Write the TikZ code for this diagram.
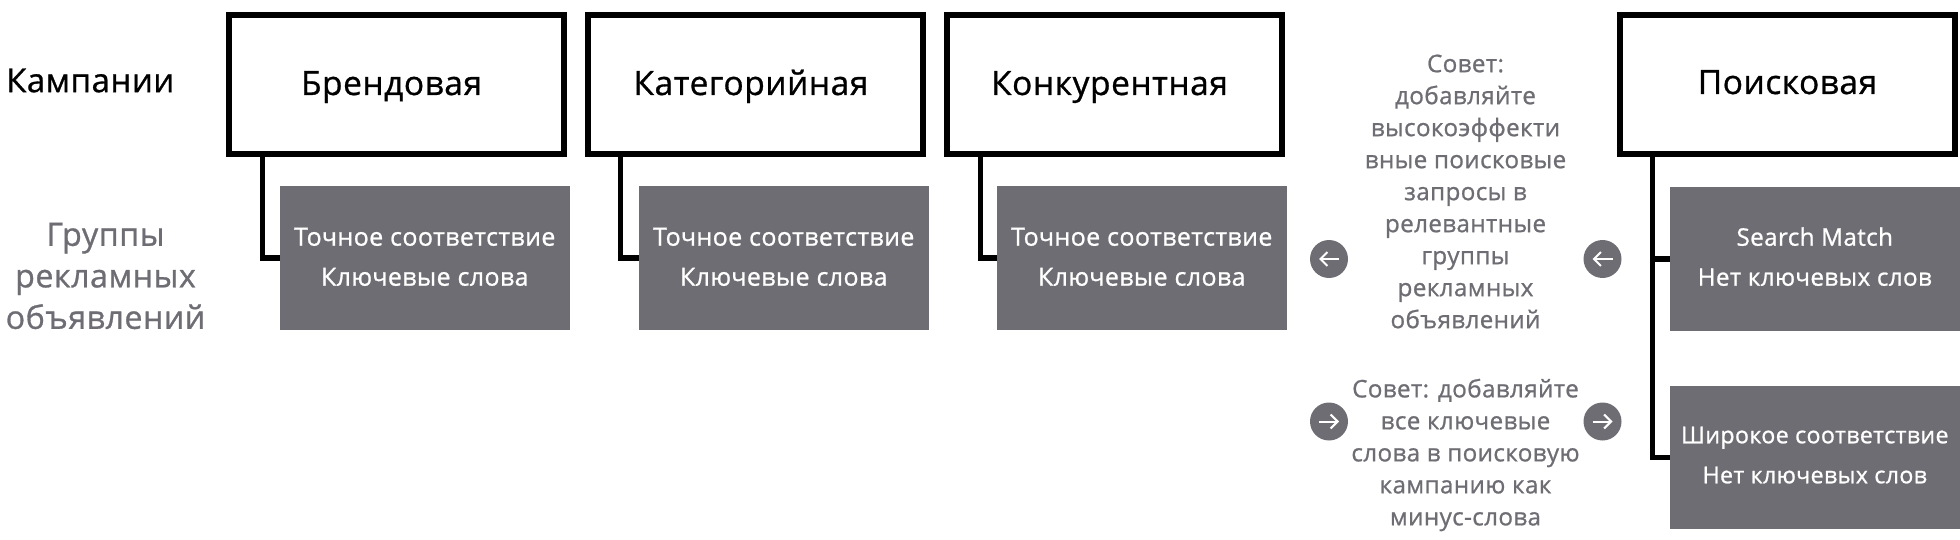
\documentclass[tikz,border=0pt]{standalone}
\usepackage{fontspec}
\setmainfont{Open Sans}[FakeBold=0.9,LetterSpace=1.6]
\usetikzlibrary{arrows.meta}
\definecolor{gr}{HTML}{6E6D73}
\newcommand\liftup{\rule[-2.5pt]{0pt}{2.5pt}}
\newcommand\liftmore{\rule[-5pt]{0pt}{5pt}}
\tikzset{
 x=1pt,y=-1pt,
 camp/.style={draw=black,line width=6pt,fill=white,inner sep=0pt,minimum width=335pt,minimum height=139pt,font=\fontsize{33.5}{36}\selectfont,text=black,text height=21pt,text depth=0pt},
 adgroup/.style={fill=gr,inner sep=0pt,minimum width=289.5pt,minimum height=143pt,align=center,text=white,font=\fontsize{25}{40}\selectfont},
 tip/.style={text=gr,align=center,inner sep=0pt,font=\fontsize{24.2}{32}\selectfont},
 side/.style={inner sep=0pt,align=center,font=\fontsize{33}{41.5}\selectfont},
 link/.style={line width=5pt,draw=black,line join=miter},
 badge/.style={circle,fill=gr,inner sep=0pt,minimum size=38pt},
 sign/.style={draw=white,line width=2pt,-{Straight Barb[length=7pt,width=14pt]}}
}
\begin{document}
\begin{tikzpicture}
\useasboundingbox (0,0) rectangle (1960,540);
\node[camp] (b1) at (396.5,84.5) {Брендовая\kern10pt};
\node[camp] (b2) at (755,84.5) {Категорийная\kern8pt};
\node[camp] (b3) at (1114,84.5) {Конкурентная\kern9pt};
\node[camp,text height=19pt] (b4) at (1787.5,84.5) {Поисковая};
\node[adgroup] (g1) at (424.75,258) {Точное соответствие\\Ключевые слова\liftup};
\node[adgroup] (g2) at (783.75,258) {Точное соответствие\\Ключевые слова\liftup};
\node[adgroup] (g3) at (1141.75,258) {Точное соответствие\\Ключевые слова\liftup};
\node[adgroup,font=\fontsize{24.2}{40}\selectfont] (g4) at (1814.75,259) {Search Match\\Нет ключевых слов\liftmore};
\node[adgroup,font=\fontsize{23.2}{40}\selectfont] (g5) at (1814.75,457.5) {Широкое соответствие\\Нет ключевых слов\liftmore};
\draw[link] ([xshift=36pt]b1.south west) |- (g1.west);
\draw[link] ([xshift=35.5pt]b2.south west) |- (g2.west);
\draw[link] ([xshift=36.5pt]b3.south west) |- (g3.west);
\draw[link] ([xshift=35pt]b4.south west) |- (g4.west);
\draw[link] ([xshift=35pt]b4.south west) |- (g5.west);
\node[side,anchor=west] (l1) at (6,80.5) {Кампании};
\node[side,text=gr,font=\fontsize{32.2}{41.5}\selectfont] (l2) at (105.5,276) {Группы\\рекламных\\объявлений};
\node[tip] (t1) at (1465.5,191.5) {Совет:\\добавляйте\\высокоэффекти\\вные поисковые\\запросы в\\релевантные\\группы\\рекламных\\объявлений};
\node[tip] (t2) at (1465.5,455) {Совет: добавляйте\\все ключевые\\слова в поисковую\\кампанию как\\минус-слова};
\node[badge] (c1) at (1329,259) {};
\node[badge] (c2) at (1602.5,259) {};
\node[badge] (c3) at (1329,421.5) {};
\node[badge] (c4) at (1602.5,421.5) {};
\foreach \c in {c1,c2}{\draw[sign] ([xshift=10pt]\c.center) -- ([xshift=-10pt]\c.center);}
\foreach \c in {c3,c4}{\draw[sign] ([xshift=-10pt]\c.center) -- ([xshift=10pt]\c.center);}
\end{tikzpicture}
\end{document}
